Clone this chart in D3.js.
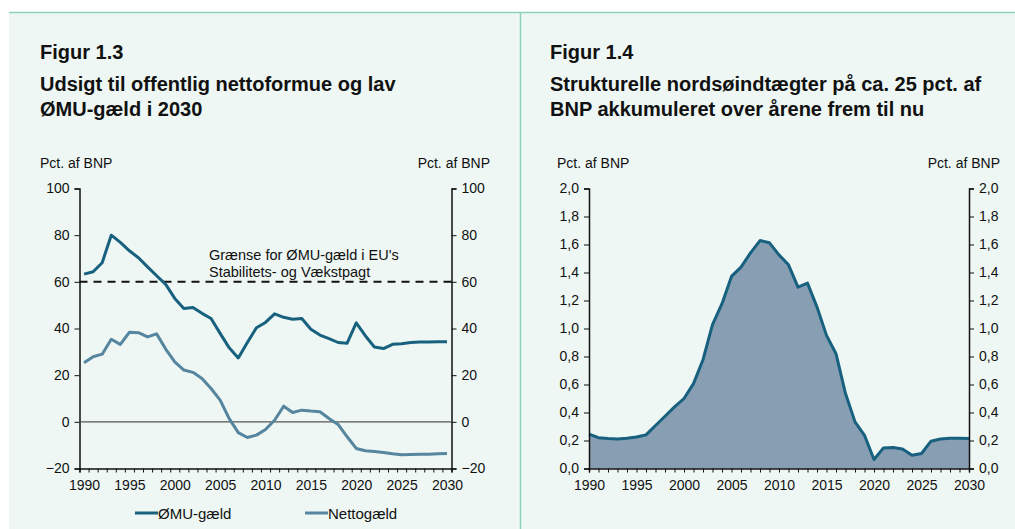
<!DOCTYPE html>
<html>
<head>
<meta charset="utf-8">
<script src="https://cdn.jsdelivr.net/npm/d3@7"></script>
<style>
  body { margin: 0; background: #fff; }
  svg { display: block; font-family: "Liberation Sans", Arial, sans-serif; }
</style>
</head>
<body>
<svg id="chart"></svg>
<script>
// --- 1. DATA ---
const years = d3.range(1990, 2031);

const emuDebt = [
  63.3, 64.3, 68.2, 80.0, 76.9, 73.3, 70.3, 66.4, 62.6, 58.9,
  52.9, 48.6, 49.0, 46.5, 44.3, 37.9, 31.7, 27.4, 34.0, 40.3,
  42.6, 46.3, 44.8, 44.0, 44.3, 39.7, 37.2, 35.7, 34.0, 33.7,
  42.4, 36.9, 32.1, 31.4, 33.2, 33.5, 34.0, 34.2, 34.2, 34.3, 34.3
];

const netDebt = [
  25.3, 27.9, 29.0, 35.4, 33.2, 38.4, 38.2, 36.4, 37.7, 31.2,
  25.7, 22.2, 21.2, 18.6, 14.3, 9.3, 1.4, -4.6, -6.7, -5.7,
  -3.3, 0.7, 6.7, 4.0, 5.0, 4.6, 4.3, 1.4, -1.1, -6.4,
  -11.4, -12.4, -12.7, -13.1, -13.7, -14.1, -14.0, -13.9, -13.9, -13.7, -13.6
];

const northSea = [
  0.245, 0.22, 0.214, 0.21, 0.216, 0.225, 0.24, 0.307, 0.373, 0.44,
  0.50, 0.606, 0.777, 1.027, 1.177, 1.372, 1.438, 1.54, 1.628, 1.612,
  1.526, 1.455, 1.295, 1.324, 1.153, 0.951, 0.82, 0.535, 0.333, 0.237,
  0.064, 0.147, 0.15, 0.14, 0.095, 0.107, 0.195, 0.211, 0.216, 0.216, 0.214
];

const emuLimit = 60;
const leftTicks = [-20, 0, 20, 40, 60, 80, 100];
const rightTicks = d3.range(0, 2.01, 0.2);
const yearLabels = d3.range(1990, 2031, 5);

const titleLeft = ["Figur 1.3", "Udsigt til offentlig nettoformue og lav", "ØMU-gæld i 2030"];
const titleRight = ["Figur 1.4", "Strukturelle nordsøindtægter på ca. 25 pct. af", "BNP akkumuleret over årene frem til nu"];
const unitLabel = "Pct. af BNP";
const limitNote = ["Grænse for ØMU-gæld i EU's", "Stabilitets- og Vækstpagt"];
const seriesNames = ["ØMU-gæld", "Nettogæld"];

// --- 2. SVG AND PANELS ---
const width = 1015;
const height = 529;
const bg = "#eef7f4";
const frame = "#8fd2bb";
const darkBlue = "#17617f";
const lightBlue = "#55859f";

const svg = d3.select("#chart")
  .attr("width", width)
  .attr("height", height);

svg.append("rect")
  .attr("x", 9).attr("y", 12)
  .attr("width", width - 9).attr("height", height - 12)
  .attr("fill", bg);

svg.append("line")
  .attr("x1", 9).attr("x2", width)
  .attr("y1", 12.5).attr("y2", 12.5)
  .attr("stroke", frame).attr("stroke-width", 1.5);

svg.append("line")
  .attr("x1", 520.5).attr("x2", 520.5)
  .attr("y1", 12).attr("y2", height)
  .attr("stroke", frame).attr("stroke-width", 1.5);

// title lines: first gap is a little larger than the second
const titleBaselines = [59, 91, 116];

function drawTitle(lines, x) {
  svg.append("text")
    .attr("font-size", 20).attr("font-weight", "bold")
    .attr("fill", "#111")
    .selectAll("tspan")
    .data(lines)
    .join("tspan")
    .attr("x", x)
    .attr("y", (d, i) => titleBaselines[i])
    .text(d => d);
}

drawTitle(titleLeft, 40);
drawTitle(titleRight, 550);

const plotTop = 188.5;
const plotBottom = 468.5;

// --- 3. LEFT CHART ---
const xL = d3.scaleLinear().domain([1989.5, 2030.5]).range([79.5, 451.5]);
const yL = d3.scaleLinear().domain([-20, 100]).range([plotBottom, plotTop]);

const gL = svg.append("g");

gL.append("g")
  .attr("transform", `translate(${xL.range()[0]},0)`)
  .call(d3.axisLeft(yL).tickValues(leftTicks).tickSize(5).tickPadding(5))
  .call(styleAxis);

gL.append("g")
  .attr("transform", `translate(${xL.range()[1]},0)`)
  .call(d3.axisRight(yL).tickValues(leftTicks).tickSize(5).tickPadding(5))
  .call(styleAxis);

gL.append("g")
  .attr("transform", `translate(0,${plotBottom})`)
  .call(d3.axisBottom(xL).tickValues(d3.range(1989.5, 2031, 1)).tickSize(4).tickFormat(""))
  .call(styleAxis);

gL.append("g")
  .attr("transform", `translate(0,${plotBottom})`)
  .call(d3.axisBottom(xL).tickValues(yearLabels).tickSize(0).tickPadding(12).tickFormat(d3.format("d")))
  .call(g => g.select(".domain").remove())
  .call(styleAxis);

// zero line
gL.append("line")
  .attr("x1", xL.range()[0]).attr("x2", xL.range()[1])
  .attr("y1", yL(0)).attr("y2", yL(0))
  .attr("stroke", "#555").attr("stroke-width", 1.2);

// EMU limit
gL.append("line")
  .attr("x1", xL.range()[0]).attr("x2", xL.range()[1])
  .attr("y1", yL(emuLimit)).attr("y2", yL(emuLimit))
  .attr("stroke", "#111").attr("stroke-width", 2)
  .attr("stroke-dasharray", "8,6");

gL.append("text")
  .attr("font-size", 14.5).attr("fill", "#111")
  .selectAll("tspan")
  .data(limitNote)
  .join("tspan")
  .attr("x", 209)
  .attr("y", (d, i) => 260 + i * 16.5)
  .text(d => d);

const lineL = d3.line()
  .x((d, i) => xL(years[i]))
  .y(d => yL(d));

gL.append("path")
  .datum(netDebt)
  .attr("fill", "none")
  .attr("stroke", lightBlue)
  .attr("stroke-width", 3)
  .attr("stroke-linejoin", "round")
  .attr("d", lineL);

gL.append("path")
  .datum(emuDebt)
  .attr("fill", "none")
  .attr("stroke", darkBlue)
  .attr("stroke-width", 3)
  .attr("stroke-linejoin", "round")
  .attr("d", lineL);

gL.append("text")
  .attr("x", 40).attr("y", 168)
  .attr("font-size", 14).attr("fill", "#111")
  .text(unitLabel);

gL.append("text")
  .attr("x", 490).attr("y", 168)
  .attr("font-size", 14).attr("fill", "#111")
  .attr("text-anchor", "end")
  .text(unitLabel);

// legend
const legend = gL.selectAll(".legend")
  .data(seriesNames)
  .join("g")
  .attr("transform", (d, i) => `translate(${i === 0 ? 135 : 305},513)`);

legend.append("line")
  .attr("x1", 0).attr("x2", 23)
  .attr("stroke", (d, i) => i === 0 ? darkBlue : lightBlue)
  .attr("stroke-width", 3);

legend.append("text")
  .attr("x", 23).attr("y", 5.5)
  .attr("font-size", 15).attr("fill", "#111")
  .text(d => d);

// --- 4. RIGHT CHART ---
const xR = d3.scaleLinear().domain([1990, 2030]).range([589, 969]);
const yR = d3.scaleLinear().domain([0, 2]).range([plotBottom, plotTop]);
const fmt = d => d3.format(".1f")(d).replace(".", ",");

const gR = svg.append("g");

const area = d3.area()
  .x((d, i) => xR(years[i]))
  .y0(yR(0))
  .y1(d => yR(d));

gR.append("path")
  .datum(northSea)
  .attr("fill", "#889eb3")
  .attr("d", area);

gR.append("path")
  .datum(northSea)
  .attr("fill", "none")
  .attr("stroke", darkBlue)
  .attr("stroke-width", 3)
  .attr("stroke-linejoin", "round")
  .attr("d", area.lineY1());

gR.append("g")
  .attr("transform", `translate(${xR.range()[0]},0)`)
  .call(d3.axisLeft(yR).tickValues(rightTicks).tickSize(5).tickPadding(5).tickFormat(fmt))
  .call(styleAxis);

gR.append("g")
  .attr("transform", `translate(${xR.range()[1]},0)`)
  .call(d3.axisRight(yR).tickValues(rightTicks).tickSize(5).tickPadding(5).tickFormat(fmt))
  .call(styleAxis);

gR.append("g")
  .attr("transform", `translate(0,${plotBottom})`)
  .call(d3.axisBottom(xR).tickValues(years).tickSize(4).tickFormat(""))
  .call(styleAxis);

gR.append("g")
  .attr("transform", `translate(0,${plotBottom})`)
  .call(d3.axisBottom(xR).tickValues(yearLabels).tickSize(0).tickPadding(12).tickFormat(d3.format("d")))
  .call(g => g.select(".domain").remove())
  .call(styleAxis);

gR.append("text")
  .attr("x", 557).attr("y", 168)
  .attr("font-size", 14).attr("fill", "#111")
  .text(unitLabel);

gR.append("text")
  .attr("x", 1000).attr("y", 168)
  .attr("font-size", 14).attr("fill", "#111")
  .attr("text-anchor", "end")
  .text(unitLabel);

function styleAxis(g) {
  g.attr("font-size", 14).attr("font-family", null);
  g.selectAll(".domain").attr("stroke", "#111").attr("stroke-width", 1.5);
  g.selectAll(".tick line").attr("stroke", "#111").attr("stroke-width", 1);
  g.selectAll(".tick text").attr("fill", "#111");
}
</script>
</body>
</html>
